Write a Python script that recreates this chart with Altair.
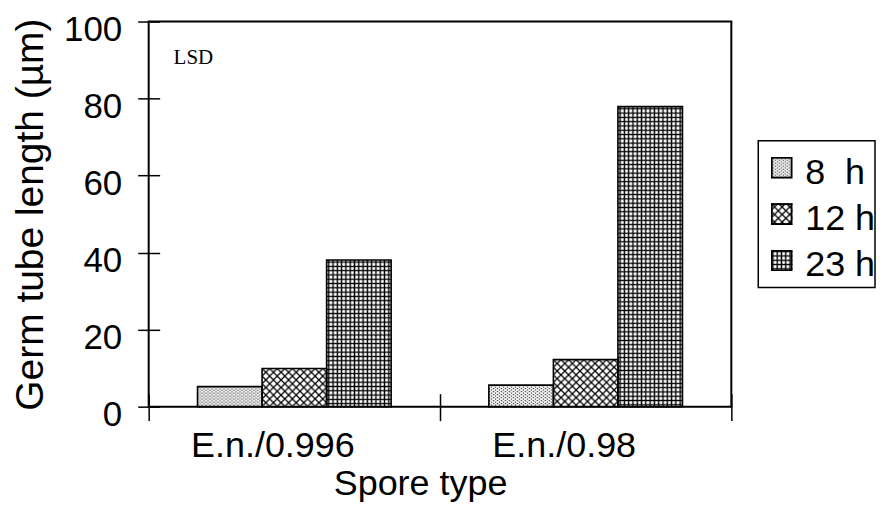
import base64
import altair as alt
import pandas as pd

# ---------------- data ----------------
spore_types = ["E.n./0.996", "E.n./0.98"]
times = ["8 h", "12 h", "23 h"]
len_8h = [5.2, 5.6]
len_12h = [9.9, 12.2]
len_23h = [38.1, 77.9]
y_ticks = [0, 20, 40, 60, 80, 100]
legend_labels = ["\u00a08\u00a0\u00a0h", "12 h", "23 h"]

rows = []
for i, s in enumerate(spore_types):
    for t, vals in zip(times, [len_8h, len_12h, len_23h]):
        rows.append({"spore": s, "time": t, "length": vals[i]})
df = pd.DataFrame(rows)
leg_df = pd.DataFrame({"time": times, "label": legend_labels})
note_df = pd.DataFrame({"note": ["LSD"]})

# ---------------- hatch patterns (styles) ----------------
PATTERNS = {
    "8 h": ('<pattern id="p" patternUnits="userSpaceOnUse" width="4" height="3">'
            '<rect x="0" y="0" width="1.2" height="1.2" fill="#222"/>'
            '<rect x="2" y="1.5" width="1.2" height="1.2" fill="#222"/></pattern>'),
    "12 h": ('<pattern id="p" patternUnits="userSpaceOnUse" width="7.6" height="7.6">'
             '<path d="M-1,-1L8.6,8.6M8.6,-1L-1,8.6" stroke="#000" stroke-width="1.3" fill="none"/></pattern>'),
    "23 h": ('<pattern id="p" patternUnits="userSpaceOnUse" width="4.3" height="4.3">'
             '<path d="M2.15,0V4.3M0,2.15H4.3" stroke="#000" stroke-width="1.4" fill="none"/></pattern>'),
}


def svg_uri(t, size=None):
    if size is None:
        dims = 'width="100%" height="100%"'
        border = ""
    else:
        dims = f'width="{size}" height="{size}"'
        border = (f'<rect x="1" y="1" width="{size-2}" height="{size-2}" fill="none" '
                  f'stroke="#000" stroke-width="2"/>')
    svg = (f'<svg xmlns="http://www.w3.org/2000/svg" {dims}><defs>{PATTERNS[t]}</defs>'
           f'<rect width="100%" height="100%" fill="#fff"/>'
           f'<rect width="100%" height="100%" fill="url(#p)"/>{border}</svg>')
    return "data:image/svg+xml;base64," + base64.b64encode(svg.encode()).decode()


FONT = "Liberation Sans"

# ---------------- main plot ----------------
x_enc = alt.X(
    "spore:N", sort=spore_types,
    scale=alt.Scale(paddingInner=0, paddingOuter=0),
    axis=alt.Axis(title="Spore type", labelAngle=0, tickBand="extent", offset=-13,
                  tickSize=27, tickWidth=1.5, domain=False, labelPadding=8,
                  labelFontSize=36, labelOffset=-22, titleFontSize=36, titlePadding=3,
                  titleX=272),
)
xo_enc = alt.XOffset("time:N", sort=times, scale=alt.Scale(paddingInner=0, paddingOuter=0.757))
y_enc = alt.Y(
    "length:Q", stack=None,
    scale=alt.Scale(domain=[0, 100], nice=False),
    axis=alt.Axis(title="Germ tube length (µm)", values=y_ticks, offset=-11, tickSize=22,
                  tickWidth=1.5, domain=False, labelPadding=16, labelFontSize=35,
                  labelBaseline="top", labelOffset=-9, titleFontSize=39, titlePadding=13),
)

base = alt.Chart(df).encode(x=x_enc, xOffset=xo_enc, y=y_enc)

img_layers = [
    base.transform_filter(alt.datum.time == t)
    .mark_image(aspect=False)
    .encode(y2=alt.datum(0), url=alt.value(svg_uri(t)))
    for t in times
]
outline = base.mark_bar(fillOpacity=0, stroke="black", strokeWidth=1.6)

lsd = alt.Chart(note_df).mark_text(
    font="Liberation Serif", fontSize=21, align="left", baseline="alphabetic", color="black"
).encode(x=alt.value(25), y=alt.value(43), text="note:N")

main = alt.layer(*img_layers, outline, lsd).properties(
    width=584, height=386, view=alt.ViewBackground(stroke="black", strokeWidth=2)
)

# ---------------- legend ----------------
leg_y = alt.Y("time:N", sort=times, axis=None,
              scale=alt.Scale(paddingInner=0, paddingOuter=0.08))
swatches = [
    alt.Chart(leg_df).transform_filter(alt.datum.time == t)
    .mark_image(width=22, height=22, aspect=False)
    .encode(y=leg_y, x=alt.value(23.5), url=alt.value(svg_uri(t, 22)))
    for t in times
]
leg_text = alt.Chart(leg_df).mark_text(
    align="left", baseline="middle", dy=5, fontSize=36, font=FONT, color="black"
).encode(y=leg_y, x=alt.value(47), text="label:N")

legend = alt.layer(*swatches, leg_text).properties(
    width=117, height=147, view=alt.ViewBackground(stroke="black", strokeWidth=1.5)
)

chart = (
    alt.hconcat(main, legend, spacing=27, center=True, bounds="flush")
    .properties(padding={"left": 2, "top": 3, "right": 0, "bottom": 0})
    .configure(font=FONT)
    .configure_axis(labelColor="black", titleColor="black", tickColor="black",
                    grid=False, labelFont=FONT, titleFont=FONT, titleFontWeight="normal")
)

chart.save("out.html", embed_options={"renderer": "svg", "actions": False})
